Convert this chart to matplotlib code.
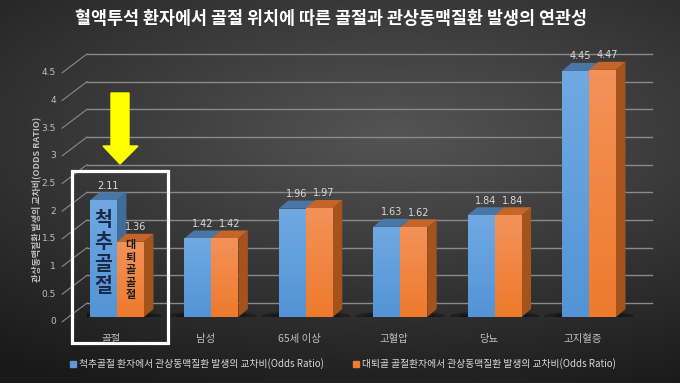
import numpy as np
import matplotlib.pyplot as plt
from matplotlib.patches import Polygon, Rectangle, Patch, Ellipse
from matplotlib.transforms import blended_transform_factory

plt.rcParams['font.family'] = ['Noto Sans CJK KR', 'DejaVu Sans']

# 데이터
categories = ['골절', '남성', '65세 이상', '고혈압', '당뇨', '고지혈증']
spine_or = [2.11, 1.42, 1.96, 1.63, 1.84, 4.45]
hip_or = [1.36, 1.42, 1.97, 1.62, 1.84, 4.47]
yticks = [0, 0.5, 1, 1.5, 2, 2.5, 3, 3.5, 4, 4.5]
series_names = ['척추골절 환자에서 관상동맥질환 발생의 교차비(Odds Ratio)',
                '대퇴골 골절환자에서 관상동맥질환 발생의 교차비(Odds Ratio)']
title = '혈액투석 환자에서 골절 위치에 따른 골절과 관상동맥질환 발생의 연관성'

W, H = 680, 383
fig = plt.figure(figsize=(6.8, 3.83), dpi=100)


def px(x, y):
    return (x / W, 1 - y / H)


# 배경 그라데이션
bg = fig.add_axes([0, 0, 1, 1], zorder=-10)
yy, xx = np.mgrid[0:1:200j, 0:1:300j]
d = np.sqrt(((xx - 0.58) * 1.0) ** 2 + ((yy - 0.35) * 1.3) ** 2)
shade = np.clip(0.33 - 0.24 * d, 0.1, 0.33)
bg.imshow(np.dstack([shade] * 3), aspect='auto', extent=[0, 1, 0, 1])
bg.axis('off')

# 뒷벽 (격자선)
wall = fig.add_axes([87 / W, (H - 303) / H, 565 / W, 249 / H], zorder=0)
wall.set_xlim(0, 1)
wall.set_ylim(0, 4.5)
wall.axis('off')
wall.patch.set_alpha(0)
bt = blended_transform_factory(wall.transAxes, wall.transData)
for v in yticks:
    wall.plot([0, 1], [v, v], color='#8a8a8a', lw=1.0, transform=bt, clip_on=False)
    wall.plot([-0.044, 0], [v - 0.34, v], color='#8a8a8a', lw=0.8, transform=bt, clip_on=False)
    wall.text(-0.055, v - 0.34, f'{v:g}', transform=bt, ha='right', va='center',
              fontsize=6.5, color='#bfbfbf', family='Liberation Sans Narrow')

# 막대
ax = fig.add_axes([87 / W, (H - 317) / H, 565 / W, 276.5 / H], zorder=1)
ax.patch.set_alpha(0)
x = np.arange(len(categories))
bw = 0.286
dx, dy = 0.1, 0.145

# 바닥 그림자
for i in x:
    ax.add_patch(Ellipse((i, 0.02), 0.95, 0.16, color='black', alpha=0.3, lw=0, zorder=1))
    ax.add_patch(Ellipse((i, 0.02), 0.75, 0.1, color='black', alpha=0.3, lw=0, zorder=1))

styles = [
    dict(vals=spine_or, off=-bw / 2, front='#5394d6', light='#70a9e2', top='#4877a6', side='#3f6c99', z=2),
    dict(vals=hip_or, off=bw / 2, front='#ee7a2c', light='#f39259', top='#c4652a', side='#a5531d', z=4),
]
for s in styles:
    bars = ax.bar(x + s['off'], s['vals'], width=bw, color=s['front'], zorder=s['z'] + 0.5)
    for b, v in zip(bars, s['vals']):
        x0 = b.get_x()
        x1 = x0 + bw
        ax.add_patch(Polygon([(x1, 0), (x1 + dx, dy), (x1 + dx, v + dy), (x1, v)],
                             closed=True, color=s['side'], zorder=s['z'], lw=0))
        ax.add_patch(Polygon([(x0, v), (x0 + dx, v + dy), (x1 + dx, v + dy), (x1, v)],
                             closed=True, color=s['top'], zorder=s['z'], lw=0))
        grad = np.linspace(0, 1, 64).reshape(-1, 1)
        cols = np.array([plt.matplotlib.colors.to_rgb(s['front']),
                         plt.matplotlib.colors.to_rgb(s['light'])])
        img = cols[0] * (1 - grad[..., None]) + cols[1] * grad[..., None]
        im = ax.imshow(img, extent=[x0, x1, 0, v], aspect='auto', origin='lower',
                       zorder=s['z'] + 0.6)
        im.set_clip_path(b)
        ax.text(x0 + bw / 2 + dx / 2, v + dy + 0.03, f'{v:.2f}', ha='center', va='bottom',
                fontsize=7, color='#d9d9d9', zorder=6, family='Liberation Sans Narrow')
ax.set_xlim(-0.318, 5.667)
ax.set_ylim(0, 5)
ax.axis('off')

# 막대 안 글자
ax.text(-bw / 2, 1.14, '척\n추\n골\n절', ha='center', va='center', fontsize=14,
        fontweight='bold', color='#1c2a4a', linespacing=1.2, zorder=8)
ax.text(bw / 2, 0.85, '대\n퇴\n골\n골\n절', ha='center', va='center', fontsize=8,
        fontweight='bold', color='#1c1c1c', linespacing=0.95, zorder=8)

# 범주 레이블
for i, c in enumerate(categories):
    fig.text((117 + 94.4 * i - 6) / W, 1 - 339 / H, c, ha='center', va='center',
             fontsize=7.5, color='#bfbfbf')

# 흰색 강조 박스
fig.patches.append(Rectangle(px(72, 343), 96 / W, 172 / H, transform=fig.transFigure,
                             fill=False, ec='white', lw=2.3, zorder=9))

# 노란 화살표
arrow = [(111, 93), (129, 93), (129, 146), (138, 146), (120, 164), (103, 146), (111, 146)]
fig.patches.append(Polygon([px(a, b) for a, b in arrow], closed=True, transform=fig.transFigure,
                           color='#ffff00', zorder=9))

# 축 제목
fig.text(36 / W, 1 - 199 / H, '관상동맥질환 발생의 교차비(ODDS RATIO)', rotation=90,
         ha='center', va='center', fontsize=6.5, fontweight='bold', color='#bfbfbf')

# 제목
fig.text(331 / W, 1 - 19 / H, title, ha='center', va='center', fontsize=12.5,
         fontweight='bold', color='white')

# 범례
handles = [Patch(color='#5b9bd5'), Patch(color='#ed7d31')]
leg = fig.legend(handles, series_names, loc='center', bbox_to_anchor=(343 / W, 1 - 364 / H),
                 ncol=2, frameon=False, fontsize=7, handlelength=0.6, handleheight=0.6,
                 handletextpad=0.3, columnspacing=3.0, labelcolor='#d9d9d9')

fig.savefig('out.png', dpi=100)
